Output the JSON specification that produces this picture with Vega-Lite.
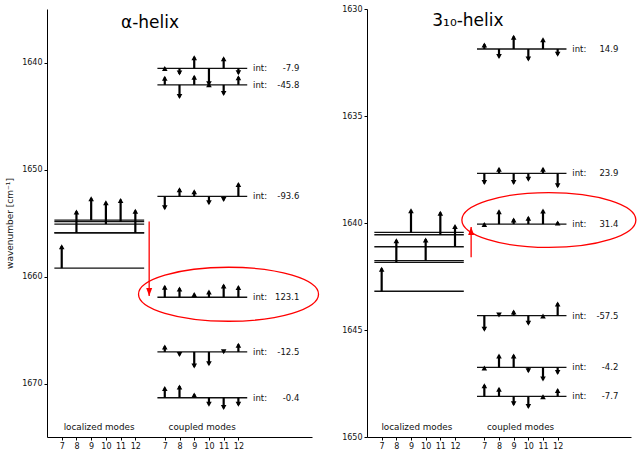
{
  "$schema": "https://vega.github.io/schema/vega-lite/v6.json",
  "padding": {"left": 5, "top": 5, "right": 0, "bottom": 0},
  "autosize": {"type": "pad"},
  "bounds": "flush",
  "spacing": 55,
  "config": {
    "view": {"stroke": null},
    "font": "DejaVu Sans",
    "axis": {"grid": false, "domainColor": "#000", "tickColor": "#000", "labelColor": "#111", "labelFont": "DejaVu Sans", "labelFontSize": 8, "tickSize": 3, "labelPadding": 2, "domainWidth": 1, "titleFont": "DejaVu Sans", "titleFontWeight": "normal", "titleFontSize": 9, "titleColor": "#111"}
  },
  "datasets": {
    "modes": [
      {"panel": "a", "group": "loc", "freq": 1659.22, "int": ""},
      {"panel": "a", "group": "loc", "freq": 1655.91, "int": ""},
      {"panel": "a", "group": "loc", "freq": 1654.73, "int": ""},
      {"panel": "a", "group": "loc", "freq": 1655.10, "int": ""},
      {"panel": "a", "group": "loc", "freq": 1654.88, "int": ""},
      {"panel": "a", "group": "loc", "freq": 1655.93, "int": ""},
      {"panel": "a", "group": "cpl", "freq": 1640.54, "int": "-7.9"},
      {"panel": "a", "group": "cpl", "freq": 1642.09, "int": "-45.8"},
      {"panel": "a", "group": "cpl", "freq": 1652.51, "int": "-93.6"},
      {"panel": "a", "group": "cpl", "freq": 1661.94, "int": "123.1"},
      {"panel": "a", "group": "cpl", "freq": 1667.05, "int": "-12.5"},
      {"panel": "a", "group": "cpl", "freq": 1671.33, "int": "-0.4"},
      {"panel": "b", "group": "loc", "freq": 1643.19, "int": ""},
      {"panel": "b", "group": "loc", "freq": 1641.84, "int": ""},
      {"panel": "b", "group": "loc", "freq": 1640.44, "int": ""},
      {"panel": "b", "group": "loc", "freq": 1641.76, "int": ""},
      {"panel": "b", "group": "loc", "freq": 1640.55, "int": ""},
      {"panel": "b", "group": "loc", "freq": 1641.11, "int": ""},
      {"panel": "b", "group": "cpl", "freq": 1631.87, "int": "14.9"},
      {"panel": "b", "group": "cpl", "freq": 1637.68, "int": "23.9"},
      {"panel": "b", "group": "cpl", "freq": 1640.05, "int": "31.4"},
      {"panel": "b", "group": "cpl", "freq": 1644.33, "int": "-57.5"},
      {"panel": "b", "group": "cpl", "freq": 1646.75, "int": "-4.2"},
      {"panel": "b", "group": "cpl", "freq": 1648.10, "int": "-7.7"}
    ],
    "arrows": [
      {"panel": "a", "group": "loc", "site": 7, "freq": 1659.22, "tip": 1657.15},
      {"panel": "a", "group": "loc", "site": 8, "freq": 1655.91, "tip": 1653.90},
      {"panel": "a", "group": "loc", "site": 9, "freq": 1654.73, "tip": 1652.66},
      {"panel": "a", "group": "loc", "site": 10, "freq": 1655.10, "tip": 1653.03},
      {"panel": "a", "group": "loc", "site": 11, "freq": 1654.88, "tip": 1652.81},
      {"panel": "a", "group": "loc", "site": 12, "freq": 1655.93, "tip": 1653.83},
      {"panel": "a", "group": "cpl", "site": 7, "freq": 1640.54, "tip": 1640.49},
      {"panel": "a", "group": "cpl", "site": 8, "freq": 1640.54, "tip": 1641.07},
      {"panel": "a", "group": "cpl", "site": 9, "freq": 1640.54, "tip": 1639.47},
      {"panel": "a", "group": "cpl", "site": 10, "freq": 1640.54, "tip": 1642.07},
      {"panel": "a", "group": "cpl", "site": 11, "freq": 1640.54, "tip": 1639.58},
      {"panel": "a", "group": "cpl", "site": 12, "freq": 1640.54, "tip": 1641.03},
      {"panel": "a", "group": "cpl", "site": 7, "freq": 1642.09, "tip": 1641.39},
      {"panel": "a", "group": "cpl", "site": 8, "freq": 1642.09, "tip": 1643.25},
      {"panel": "a", "group": "cpl", "site": 9, "freq": 1642.09, "tip": 1641.30},
      {"panel": "a", "group": "cpl", "site": 10, "freq": 1642.09, "tip": 1641.99},
      {"panel": "a", "group": "cpl", "site": 11, "freq": 1642.09, "tip": 1642.97},
      {"panel": "a", "group": "cpl", "site": 12, "freq": 1642.09, "tip": 1641.35},
      {"panel": "a", "group": "cpl", "site": 7, "freq": 1652.51, "tip": 1653.65},
      {"panel": "a", "group": "cpl", "site": 8, "freq": 1652.51, "tip": 1651.82},
      {"panel": "a", "group": "cpl", "site": 9, "freq": 1652.51, "tip": 1652.01},
      {"panel": "a", "group": "cpl", "site": 10, "freq": 1652.51, "tip": 1653.19},
      {"panel": "a", "group": "cpl", "site": 11, "freq": 1652.51, "tip": 1652.88},
      {"panel": "a", "group": "cpl", "site": 12, "freq": 1652.51, "tip": 1651.33},
      {"panel": "a", "group": "cpl", "site": 7, "freq": 1661.94, "tip": 1660.92},
      {"panel": "a", "group": "cpl", "site": 8, "freq": 1661.94, "tip": 1661.10},
      {"panel": "a", "group": "cpl", "site": 9, "freq": 1661.94, "tip": 1661.61},
      {"panel": "a", "group": "cpl", "site": 10, "freq": 1661.94, "tip": 1661.36},
      {"panel": "a", "group": "cpl", "site": 11, "freq": 1661.94, "tip": 1660.80},
      {"panel": "a", "group": "cpl", "site": 12, "freq": 1661.94, "tip": 1660.96},
      {"panel": "a", "group": "cpl", "site": 7, "freq": 1667.05, "tip": 1666.52},
      {"panel": "a", "group": "cpl", "site": 8, "freq": 1667.05, "tip": 1667.36},
      {"panel": "a", "group": "cpl", "site": 9, "freq": 1667.05, "tip": 1668.44},
      {"panel": "a", "group": "cpl", "site": 10, "freq": 1667.05, "tip": 1668.23},
      {"panel": "a", "group": "cpl", "site": 11, "freq": 1667.05, "tip": 1667.10},
      {"panel": "a", "group": "cpl", "site": 12, "freq": 1667.05, "tip": 1666.34},
      {"panel": "a", "group": "cpl", "site": 7, "freq": 1671.33, "tip": 1670.40},
      {"panel": "a", "group": "cpl", "site": 8, "freq": 1671.33, "tip": 1670.24},
      {"panel": "a", "group": "cpl", "site": 9, "freq": 1671.33, "tip": 1670.99},
      {"panel": "a", "group": "cpl", "site": 10, "freq": 1671.33, "tip": 1672.01},
      {"panel": "a", "group": "cpl", "site": 11, "freq": 1671.33, "tip": 1672.32},
      {"panel": "a", "group": "cpl", "site": 12, "freq": 1671.33, "tip": 1672.01},
      {"panel": "b", "group": "loc", "site": 7, "freq": 1643.19, "tip": 1642.12},
      {"panel": "b", "group": "loc", "site": 8, "freq": 1641.84, "tip": 1640.79},
      {"panel": "b", "group": "loc", "site": 9, "freq": 1640.44, "tip": 1639.39},
      {"panel": "b", "group": "loc", "site": 10, "freq": 1641.76, "tip": 1640.75},
      {"panel": "b", "group": "loc", "site": 11, "freq": 1640.55, "tip": 1639.50},
      {"panel": "b", "group": "loc", "site": 12, "freq": 1641.11, "tip": 1640.13},
      {"panel": "b", "group": "cpl", "site": 7, "freq": 1631.87, "tip": 1631.64},
      {"panel": "b", "group": "cpl", "site": 8, "freq": 1631.87, "tip": 1632.26},
      {"panel": "b", "group": "cpl", "site": 9, "freq": 1631.87, "tip": 1631.28},
      {"panel": "b", "group": "cpl", "site": 10, "freq": 1631.87, "tip": 1632.37},
      {"panel": "b", "group": "cpl", "site": 11, "freq": 1631.87, "tip": 1631.40},
      {"panel": "b", "group": "cpl", "site": 12, "freq": 1631.87, "tip": 1632.15},
      {"panel": "b", "group": "cpl", "site": 7, "freq": 1637.68, "tip": 1638.15},
      {"panel": "b", "group": "cpl", "site": 8, "freq": 1637.68, "tip": 1637.45},
      {"panel": "b", "group": "cpl", "site": 9, "freq": 1637.68, "tip": 1638.15},
      {"panel": "b", "group": "cpl", "site": 10, "freq": 1637.68, "tip": 1637.99},
      {"panel": "b", "group": "cpl", "site": 11, "freq": 1637.68, "tip": 1637.45},
      {"panel": "b", "group": "cpl", "site": 12, "freq": 1637.68, "tip": 1638.30},
      {"panel": "b", "group": "cpl", "site": 7, "freq": 1640.05, "tip": 1640.03},
      {"panel": "b", "group": "cpl", "site": 8, "freq": 1640.05, "tip": 1639.43},
      {"panel": "b", "group": "cpl", "site": 9, "freq": 1640.05, "tip": 1639.82},
      {"panel": "b", "group": "cpl", "site": 10, "freq": 1640.05, "tip": 1639.74},
      {"panel": "b", "group": "cpl", "site": 11, "freq": 1640.05, "tip": 1639.40},
      {"panel": "b", "group": "cpl", "site": 12, "freq": 1640.05, "tip": 1639.96},
      {"panel": "b", "group": "cpl", "site": 7, "freq": 1644.33, "tip": 1645.00},
      {"panel": "b", "group": "cpl", "site": 8, "freq": 1644.33, "tip": 1644.34},
      {"panel": "b", "group": "cpl", "site": 9, "freq": 1644.33, "tip": 1644.12},
      {"panel": "b", "group": "cpl", "site": 10, "freq": 1644.33, "tip": 1644.72},
      {"panel": "b", "group": "cpl", "site": 11, "freq": 1644.33, "tip": 1644.31},
      {"panel": "b", "group": "cpl", "site": 12, "freq": 1644.33, "tip": 1643.75},
      {"panel": "b", "group": "cpl", "site": 7, "freq": 1646.75, "tip": 1646.74},
      {"panel": "b", "group": "cpl", "site": 8, "freq": 1646.75, "tip": 1646.18},
      {"panel": "b", "group": "cpl", "site": 9, "freq": 1646.75, "tip": 1646.18},
      {"panel": "b", "group": "cpl", "site": 10, "freq": 1646.75, "tip": 1646.94},
      {"panel": "b", "group": "cpl", "site": 11, "freq": 1646.75, "tip": 1647.33},
      {"panel": "b", "group": "cpl", "site": 12, "freq": 1646.75, "tip": 1647.03},
      {"panel": "b", "group": "cpl", "site": 7, "freq": 1648.10, "tip": 1647.57},
      {"panel": "b", "group": "cpl", "site": 8, "freq": 1648.10, "tip": 1647.73},
      {"panel": "b", "group": "cpl", "site": 9, "freq": 1648.10, "tip": 1648.49},
      {"panel": "b", "group": "cpl", "site": 10, "freq": 1648.10, "tip": 1648.61},
      {"panel": "b", "group": "cpl", "site": 11, "freq": 1648.10, "tip": 1648.08},
      {"panel": "b", "group": "cpl", "site": 12, "freq": 1648.10, "tip": 1647.79}
    ],
    "redarrow": [
      {"panel": "a", "x": 6.94, "from": 1654.85, "to": 1661.82},
      {"panel": "b", "x": 7.1, "from": 1641.6, "to": 1640.19}
    ],
    "ellipse": [
      {"panel": "a", "x": 12.33, "y": 1661.66},
      {"panel": "b", "x": 12.4, "y": 1639.86}
    ],
    "labels": [
      {"panel": "a", "kind": "title", "x": 7.0, "y": 1636.75, "text": "α-helix"},
      {"panel": "a", "kind": "note", "x": 3.54, "y": 1674.35, "text": "localized modes"},
      {"panel": "a", "kind": "note", "x": 10.54, "y": 1674.35, "text": "coupled modes"},
      {"panel": "b", "kind": "title", "x": 6.88, "y": 1630.79, "text": "3₁₀-helix"},
      {"panel": "b", "kind": "note", "x": 3.4, "y": 1649.67, "text": "localized modes"},
      {"panel": "b", "kind": "note", "x": 10.47, "y": 1649.67, "text": "coupled modes"}
    ]
  },
  "hconcat": [
    {
      "width": 265,
      "height": 428,
      "encoding": {
        "x": {"type": "quantitative", "title": null, "scale": {"domain": [0, 18], "nice": false, "zero": false}, "axis": {"values": [1, 2, 3, 4, 5, 6, 8, 9, 10, 11, 12, 13], "labelExpr": "datum.value < 7 ? datum.value + 6 : datum.value - 1"}},
        "y": {"type": "quantitative", "title": "wavenumber [cm⁻¹]", "scale": {"domain": [1635, 1675], "reverse": true, "nice": false, "zero": false}, "axis": {"values": [1640, 1650, 1660, 1670], "format": "d", "titlePadding": 7}}
      },
      "layer": [
        {
          "data": {"name": "modes"},
          "transform": [{"filter": "datum.panel === 'a'"}, {"calculate": "datum.group === 'loc' ? 0.5 : 7.5", "as": "xs"}, {"calculate": "datum.xs + 6.1", "as": "xe"}],
          "mark": {"type": "rule", "color": "#111", "strokeWidth": 1.3},
          "encoding": {
            "x": {"field": "xs"},
            "x2": {"field": "xe"},
            "y": {"field": "freq"}
          }
        },
        {
          "data": {"name": "arrows"},
          "transform": [{"filter": "datum.panel === 'a'"}, {"calculate": "datum.group === 'loc' ? datum.site - 6 : datum.site + 1", "as": "pos"}],
          "mark": {"type": "rule", "color": "#000", "strokeWidth": 2.2},
          "encoding": {
            "x": {"field": "pos"},
            "y": {"field": "freq"},
            "y2": {"field": "tip"}
          }
        },
        {
          "data": {"name": "arrows"},
          "transform": [{"filter": "datum.panel === 'a'"}, {"calculate": "datum.group === 'loc' ? datum.site - 6 : datum.site + 1", "as": "pos"}, {"calculate": "datum.tip < datum.freq ? 'up' : 'down'", "as": "dir"}],
          "mark": {"type": "point", "filled": true, "color": "#000", "opacity": 1, "size": 31, "strokeWidth": 0},
          "encoding": {
            "x": {"field": "pos"},
            "y": {"field": "tip"},
            "shape": {"field": "dir", "type": "nominal", "scale": {"domain": ["up", "down"], "range": ["M 0 -0.6 L -1 1.2 L 1 1.2 Z", "M 0 0.6 L -1 -1.2 L 1 -1.2 Z"]}, "legend": null}
          }
        },
        {
          "data": {"name": "modes"},
          "transform": [{"filter": "datum.panel === 'a' && datum.group === 'cpl'"}, {"calculate": "14.0", "as": "xl"}],
          "mark": {"type": "text", "align": "left", "baseline": "middle", "fontSize": 8.5, "color": "#111", "text": "int:"},
          "encoding": {
            "x": {"field": "xl"},
            "y": {"field": "freq"}
          }
        },
        {
          "data": {"name": "modes"},
          "transform": [{"filter": "datum.panel === 'a' && datum.group === 'cpl'"}, {"calculate": "17.14", "as": "xv"}],
          "mark": {"type": "text", "align": "right", "baseline": "middle", "fontSize": 8.5, "color": "#111"},
          "encoding": {
            "x": {"field": "xv"},
            "y": {"field": "freq"},
            "text": {"field": "int"}
          }
        },
        {
          "data": {"name": "redarrow"},
          "transform": [{"filter": "datum.panel === 'a'"}],
          "mark": {"type": "rule", "color": "#ff0000", "strokeWidth": 1.3},
          "encoding": {
            "x": {"field": "x"},
            "y": {"field": "from"},
            "y2": {"field": "to"}
          }
        },
        {
          "data": {"name": "redarrow"},
          "transform": [{"filter": "datum.panel === 'a'"}],
          "mark": {"type": "point", "filled": true, "color": "#ff0000", "opacity": 1, "size": 64, "strokeWidth": 0, "shape": "M 0 0 L -0.75 -2 L 0.75 -2 Z"},
          "encoding": {
            "x": {"field": "x"},
            "y": {"field": "to"}
          }
        },
        {
          "data": {"name": "ellipse"},
          "transform": [{"filter": "datum.panel === 'a'"}],
          "mark": {"type": "point", "filled": false, "color": "#ff0000", "opacity": 1, "size": 32400, "strokeWidth": 1.3, "shape": "M -1 0 C -1 -0.1657 -0.5523 -0.3 0 -0.3 C 0.5523 -0.3 1 -0.1657 1 0 C 1 0.1657 0.5523 0.3 0 0.3 C -0.5523 0.3 -1 0.1657 -1 0 Z"},
          "encoding": {
            "x": {"field": "x"},
            "y": {"field": "y"}
          }
        },
        {
          "data": {"name": "labels"},
          "transform": [{"filter": "datum.panel === 'a' && datum.kind === 'title'"}],
          "mark": {"type": "text", "align": "center", "baseline": "alphabetic", "fontSize": 17, "color": "#000"},
          "encoding": {
            "x": {"field": "x"},
            "y": {"field": "y"},
            "text": {"field": "text"}
          }
        },
        {
          "data": {"name": "labels"},
          "transform": [{"filter": "datum.panel === 'a' && datum.kind === 'note'"}],
          "mark": {"type": "text", "align": "center", "baseline": "alphabetic", "fontSize": 8.8, "color": "#111"},
          "encoding": {
            "x": {"field": "x"},
            "y": {"field": "y"},
            "text": {"field": "text"}
          }
        }
      ]
    },
    {
      "width": 264,
      "height": 428,
      "encoding": {
        "x": {"type": "quantitative", "title": null, "scale": {"domain": [0, 18], "nice": false, "zero": false}, "axis": {"values": [1, 2, 3, 4, 5, 6, 8, 9, 10, 11, 12, 13], "labelExpr": "datum.value < 7 ? datum.value + 6 : datum.value - 1"}},
        "y": {"type": "quantitative", "title": null, "scale": {"domain": [1630, 1650], "reverse": true, "nice": false, "zero": false}, "axis": {"values": [1630, 1635, 1640, 1645, 1650], "format": "d"}}
      },
      "layer": [
        {
          "data": {"name": "modes"},
          "transform": [{"filter": "datum.panel === 'b'"}, {"calculate": "datum.group === 'loc' ? 0.5 : 7.5", "as": "xs"}, {"calculate": "datum.xs + 6.1", "as": "xe"}],
          "mark": {"type": "rule", "color": "#111", "strokeWidth": 1.3},
          "encoding": {
            "x": {"field": "xs"},
            "x2": {"field": "xe"},
            "y": {"field": "freq"}
          }
        },
        {
          "data": {"name": "arrows"},
          "transform": [{"filter": "datum.panel === 'b'"}, {"calculate": "datum.group === 'loc' ? datum.site - 6 : datum.site + 1", "as": "pos"}],
          "mark": {"type": "rule", "color": "#000", "strokeWidth": 2.2},
          "encoding": {
            "x": {"field": "pos"},
            "y": {"field": "freq"},
            "y2": {"field": "tip"}
          }
        },
        {
          "data": {"name": "arrows"},
          "transform": [{"filter": "datum.panel === 'b'"}, {"calculate": "datum.group === 'loc' ? datum.site - 6 : datum.site + 1", "as": "pos"}, {"calculate": "datum.tip < datum.freq ? 'up' : 'down'", "as": "dir"}],
          "mark": {"type": "point", "filled": true, "color": "#000", "opacity": 1, "size": 31, "strokeWidth": 0},
          "encoding": {
            "x": {"field": "pos"},
            "y": {"field": "tip"},
            "shape": {"field": "dir", "type": "nominal", "scale": {"domain": ["up", "down"], "range": ["M 0 -0.6 L -1 1.2 L 1 1.2 Z", "M 0 0.6 L -1 -1.2 L 1 -1.2 Z"]}, "legend": null}
          }
        },
        {
          "data": {"name": "modes"},
          "transform": [{"filter": "datum.panel === 'b' && datum.group === 'cpl'"}, {"calculate": "14.0", "as": "xl"}],
          "mark": {"type": "text", "align": "left", "baseline": "middle", "fontSize": 8.5, "color": "#111", "text": "int:"},
          "encoding": {
            "x": {"field": "xl"},
            "y": {"field": "freq"}
          }
        },
        {
          "data": {"name": "modes"},
          "transform": [{"filter": "datum.panel === 'b' && datum.group === 'cpl'"}, {"calculate": "17.14", "as": "xv"}],
          "mark": {"type": "text", "align": "right", "baseline": "middle", "fontSize": 8.5, "color": "#111"},
          "encoding": {
            "x": {"field": "xv"},
            "y": {"field": "freq"},
            "text": {"field": "int"}
          }
        },
        {
          "data": {"name": "redarrow"},
          "transform": [{"filter": "datum.panel === 'b'"}],
          "mark": {"type": "rule", "color": "#ff0000", "strokeWidth": 1.3},
          "encoding": {
            "x": {"field": "x"},
            "y": {"field": "from"},
            "y2": {"field": "to"}
          }
        },
        {
          "data": {"name": "redarrow"},
          "transform": [{"filter": "datum.panel === 'b'"}],
          "mark": {"type": "point", "filled": true, "color": "#ff0000", "opacity": 1, "size": 64, "strokeWidth": 0, "shape": "M 0 0 L -0.75 2 L 0.75 2 Z"},
          "encoding": {
            "x": {"field": "x"},
            "y": {"field": "to"}
          }
        },
        {
          "data": {"name": "ellipse"},
          "transform": [{"filter": "datum.panel === 'b'"}],
          "mark": {"type": "point", "filled": false, "color": "#ff0000", "opacity": 1, "size": 30276, "strokeWidth": 1.3, "shape": "M -1 0 C -1 -0.1743 -0.5523 -0.3156 0 -0.3156 C 0.5523 -0.3156 1 -0.1743 1 0 C 1 0.1743 0.5523 0.3156 0 0.3156 C -0.5523 0.3156 -1 0.1743 -1 0 Z"},
          "encoding": {
            "x": {"field": "x"},
            "y": {"field": "y"}
          }
        },
        {
          "data": {"name": "labels"},
          "transform": [{"filter": "datum.panel === 'b' && datum.kind === 'title'"}],
          "mark": {"type": "text", "align": "center", "baseline": "alphabetic", "fontSize": 17, "color": "#000"},
          "encoding": {
            "x": {"field": "x"},
            "y": {"field": "y"},
            "text": {"field": "text"}
          }
        },
        {
          "data": {"name": "labels"},
          "transform": [{"filter": "datum.panel === 'b' && datum.kind === 'note'"}],
          "mark": {"type": "text", "align": "center", "baseline": "alphabetic", "fontSize": 8.8, "color": "#111"},
          "encoding": {
            "x": {"field": "x"},
            "y": {"field": "y"},
            "text": {"field": "text"}
          }
        }
      ]
    }
  ]
}
